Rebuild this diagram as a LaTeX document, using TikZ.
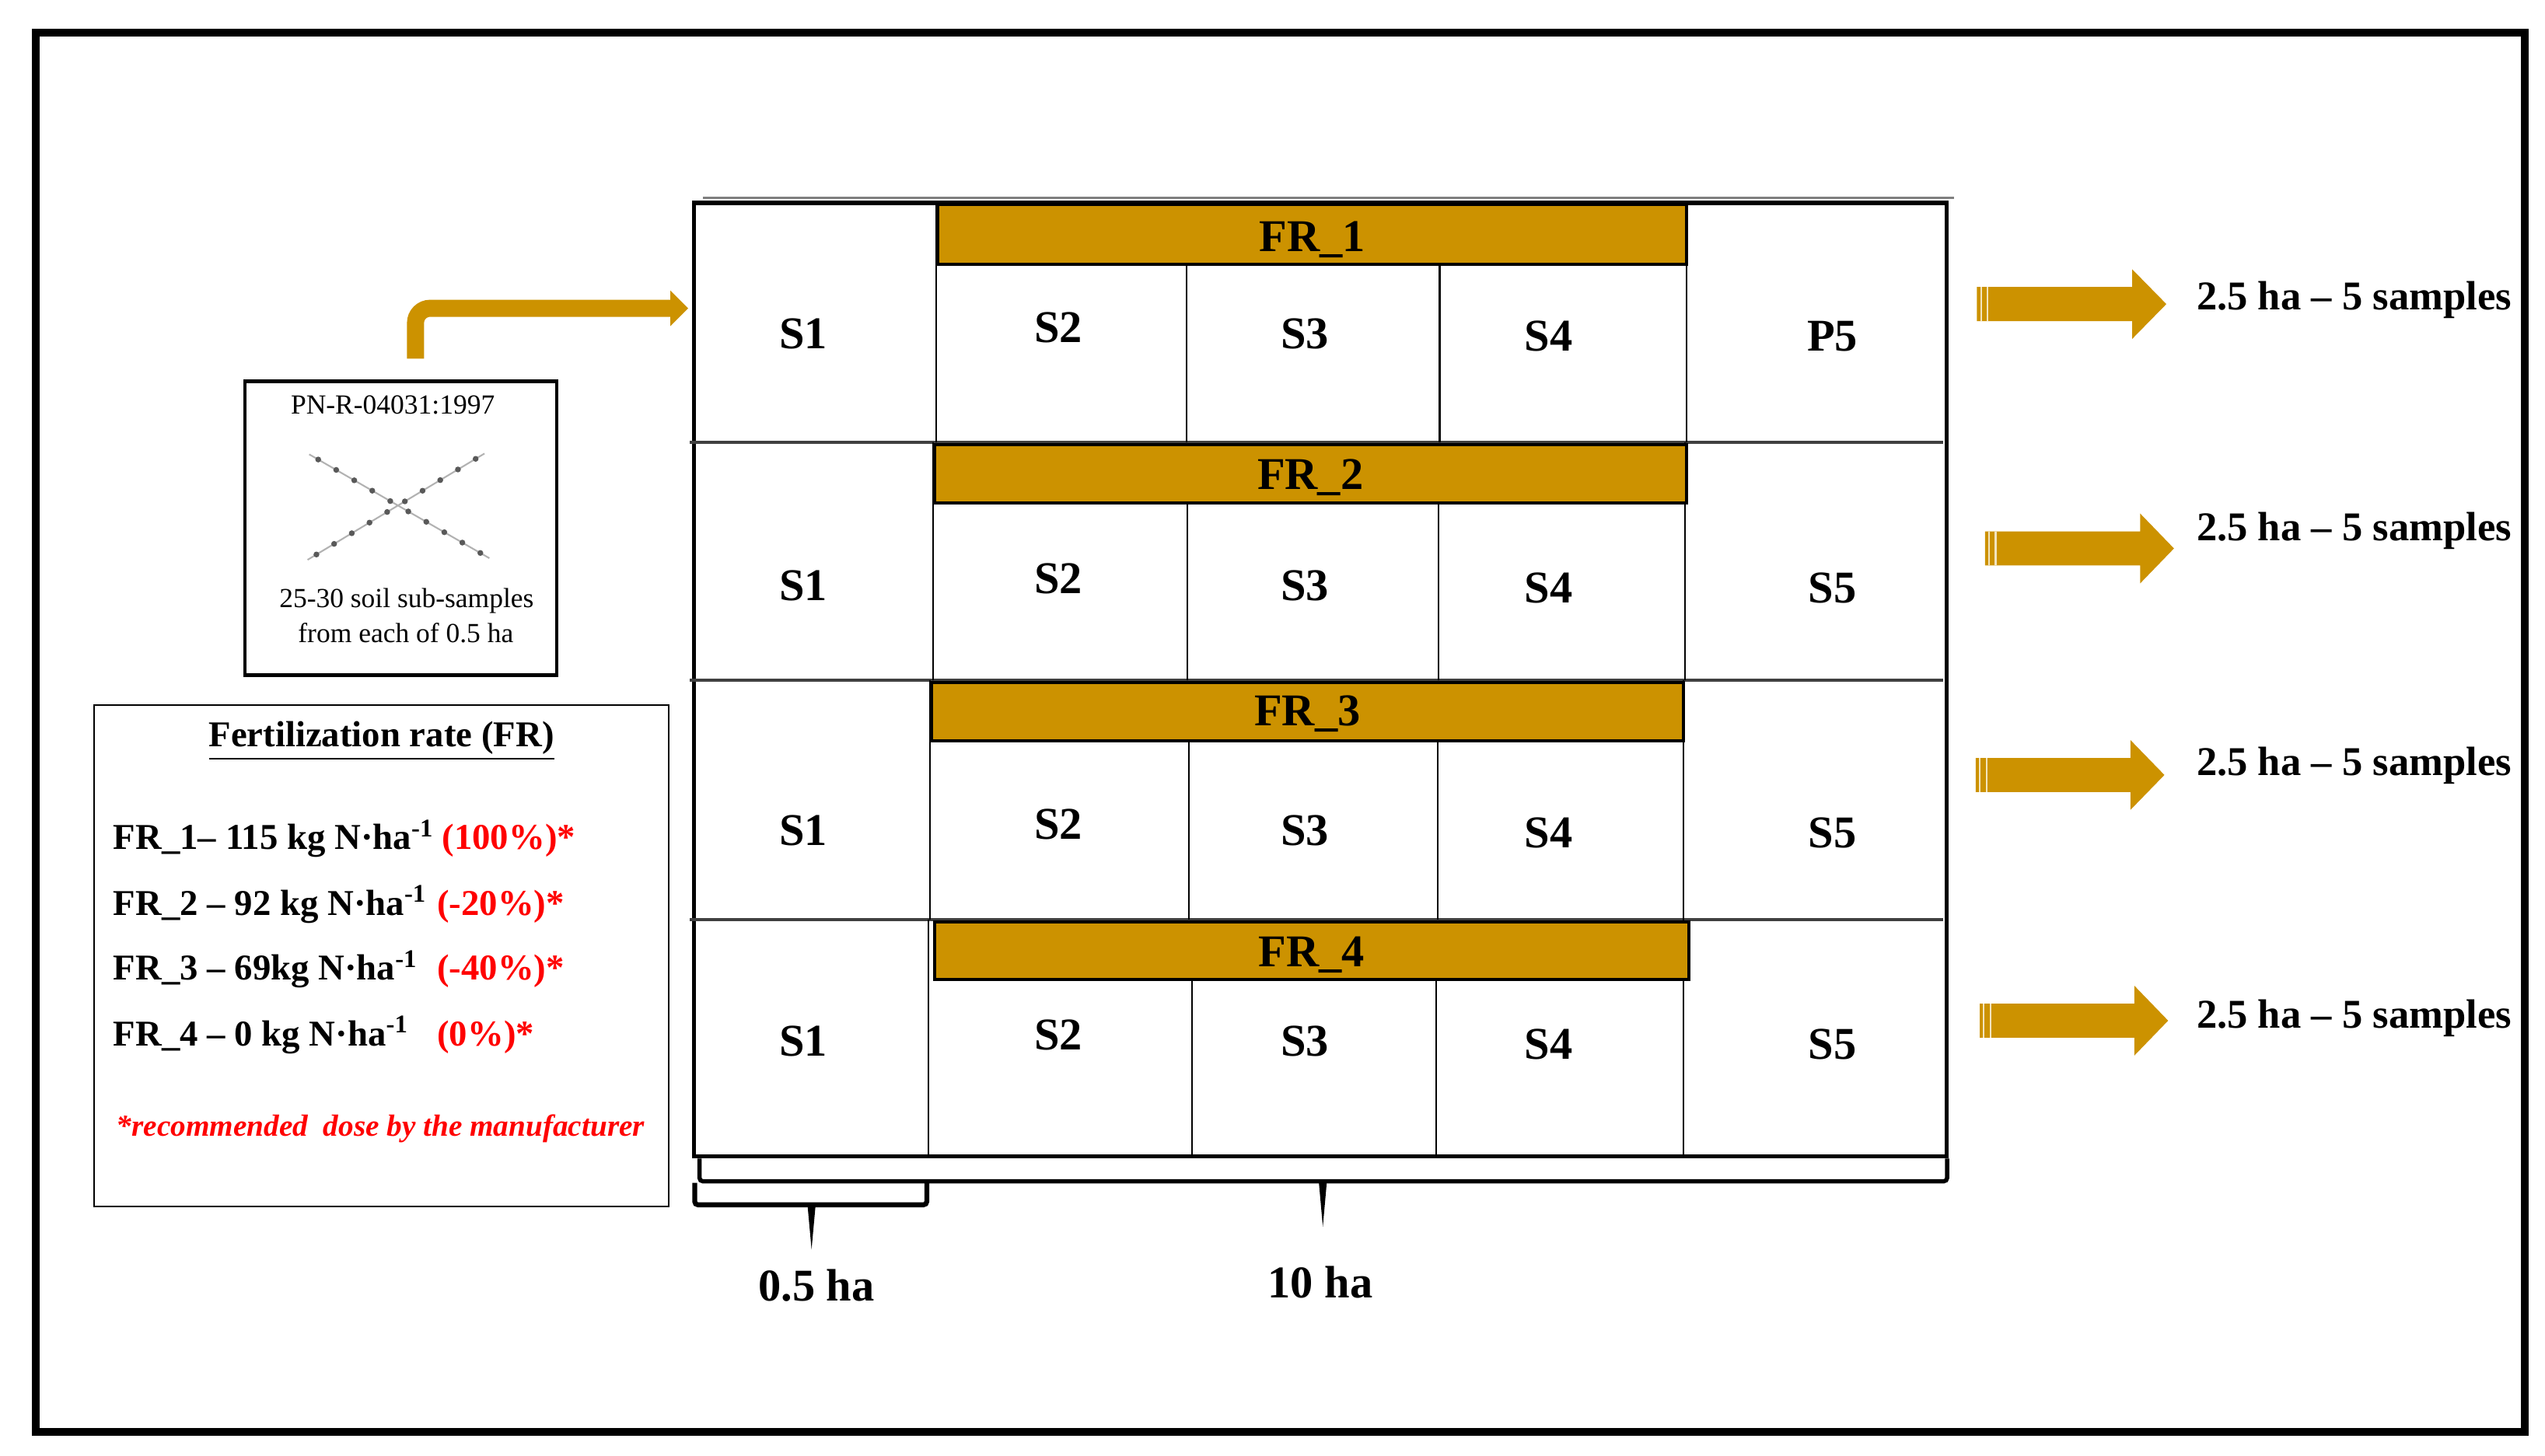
\documentclass[tikz,border=0pt]{standalone}
\usepackage{fontspec}
\setmainfont{Liberation Serif}
\definecolor{fieldgold}{RGB}{204,146,0}
\newcommand{\cellfont}{\fontsize{14}{16}\selectfont\bfseries}
\newcommand{\outfont}{\fontsize{12.6}{15}\selectfont\bfseries}
\newcommand{\legfont}{\fontsize{11.2}{13}\selectfont\bfseries}
\newcommand{\notefont}{\fontsize{9.4}{11}\selectfont\bfseries\itshape}
\newcommand{\boxfont}{\fontsize{8.5}{10}\selectfont}

\tikzset{
  cell/.style={font=\cellfont, anchor=base, inner sep=0pt},
  frbar/.style={draw=black, line width=0.9pt, fill=fieldgold},
  divider/.style={line width=0.5pt},
  rowline/.style={line width=0.9pt, black!75},
  legline/.style={font=\legfont, anchor=base west, inner sep=0pt},
  brace/.style={line width=1.3pt, rounded corners=1pt},
}

\begin{document}
\begin{tikzpicture}[x=0.5pt, y=-0.5pt]
  \useasboundingbox (0,0) rectangle (1568,897);
  \draw[line width=2.4pt] (22,20) rectangle (1555.3,882.6);

  % field plan
  \draw[gray, line width=0.6pt] (433,122) -- (1204,122);
  \draw[line width=1.2pt] (427.6,124.6) rectangle (1199.3,712.8);
  \draw[line width=1.6pt] (427.6,125) -- (1199.3,125);
  \foreach \y in {272.7,419.2,566.8}
    \draw[rowline] (425,\y) -- (1197,\y);
  \foreach \top/\bar/\bot/\xa/\xb/\xc/\xd in {124.6/163/272.7/577/731/887/1039,
      272.7/309.8/419.2/575/731.6/886.3/1038, 419.2/456.6/566.8/573/732.5/885.8/1037,
      566.8/603.6/712.8/572/734.6/884.8/1037}
    \draw[divider] (\xa,\top) -- (\xa,\bot) (\xb,\bar) -- (\xb,\bot)
      (\xc,\bar) -- (\xc,\bot) (\xd,\top) -- (\xd,\bot);
  \foreach \n/\xl/\yt/\xr/\yb/\ylab in {1/578/126/1039/163/155, 2/575.7/273.9/1039/309.8/301.8,
      3/574/420.7/1037/456.6/447, 4/575.7/568.2/1040.6/603.6/595.5} {
    \draw[frbar] (\xl,\yt) rectangle (\xr,\yb);
    \node[cell] (fr\n) at ({(\xl+\xr)/2},\ylab) {FR\_\n};
  }
  \foreach \row/\yb/\last in {1/215/P5, 2/370/S5, 3/521/S5, 4/651/S5} {
    \node[cell] (s\row-1) at (495,\yb) {S1};
    \node[cell] (s\row-2) at (652,\yb-4) {S2};
    \node[cell] (s\row-3) at (804,\yb) {S3};
    \node[cell] (s\row-4) at (954,\yb+1.5) {S4};
    \node[cell] (s\row-5) at (1129,\yb+1.5) {\last};
  }

  % outputs per row
  \foreach \n/\xs/\xh/\xt/\yc/\ytxt in {1/1218/1313.6/1334.7/187.4/190.7, 2/1223/1318.6/1339.4/338/333,
      3/1217.3/1312.6/1333.5/477.6/478, 4/1219.7/1315/1335.8/629/633.8} {
    \fill[fieldgold] (\xs,\yc-10.5) -- (\xh,\yc-10.5) -- (\xh,\yc-21.5) -- (\xt,\yc)
      -- (\xh,\yc+21.5) -- (\xh,\yc+10.5) -- (\xs,\yc+10.5) -- cycle;
    \draw[fieldgold!25, line width=0.5pt] (\xs+2.5,\yc-10.5) -- (\xs+2.5,\yc+10.5)
      (\xs+6.5,\yc-10.5) -- (\xs+6.5,\yc+10.5);
    \node[font=\outfont, anchor=base west, inner sep=0pt] (out\n) at (1353,\ytxt) {2.5 ha -- 5 samples};
  }

  % sampling
  \node[draw, line width=1.1pt, minimum width=96pt, minimum height=90.5pt] (sampbox) at (247,325.5) {};
  \node[font=\boxfont, anchor=base] (pn) at (242,255) {PN-R-04031:1997};
  \draw[black!30, line width=0.5pt] (190.5,280) -- (301.5,344) (189.5,345) -- (298.5,279.5);
  \foreach \t in {0.05,0.15,...,0.95} {
    \fill[black!65] ({190.5+111*\t},{280+64*\t}) circle (0.9pt);
    \fill[black!65] ({189.5+109*\t},{345-65.5*\t}) circle (0.9pt);
  }
  \node[font=\boxfont, anchor=base] (sub1) at (250.5,374.6) {25-30 soil sub-samples};
  \node[font=\boxfont, anchor=base] (sub2) at (250,396) {from each of 0.5 ha};
  \coordinate (rise) at (256,221);
  \coordinate (feed) at (415,190);
  \draw[fieldgold, line width=5.25pt, rounded corners=4.5pt] (rise) |- (feed);
  \fill[fieldgold] (413,179) -- (424,190) -- (413,201) -- cycle;

  % legend
  \draw[line width=0.6pt] (58,434.6) rectangle (412,743.5);
  \node[font=\legfont, anchor=base] (frtitle) at (235,460) {\underline{Fertilization rate (FR)}};
  \node[legline] (fr1txt) at (69.5,523.5) {FR\_1-- 115 kg N·ha\textsuperscript{-1}};
  \node[legline, text=red] (fr1pct) at (272,523.5) {(100\%)*};
  \node[legline] (fr2txt) at (69.5,564) {FR\_2 -- 92 kg N·ha\textsuperscript{-1}};
  \node[legline, text=red] (fr2pct) at (269,564) {(-20\%)*};
  \node[legline] (fr3txt) at (69.5,604) {FR\_3 -- 69kg N·ha\textsuperscript{-1}};
  \node[legline, text=red] (fr3pct) at (269,604) {(-40\%)*};
  \node[legline] (fr4txt) at (69.5,644.6) {FR\_4 -- 0 kg N·ha\textsuperscript{-1}};
  \node[legline, text=red] (fr4pct) at (269,644.6) {(0\%)*};
  \node[font=\notefont, text=red, anchor=base west, inner sep=0pt] (note) at (71.4,700)
    {*recommended\ \ dose by the manufacturer};

  % sizes
  \draw[brace] (431,714) -- (431,728) -- (1199.6,728) -- (1199.6,714);
  \fill (812.5,728) -- (817.5,728) -- (815,756) -- cycle;
  \draw[brace, line width=1.5pt] (428,729) -- (428,742.5) -- (571,742.5) -- (571,729);
  \fill (497.5,742.5) -- (502.5,742.5) -- (500,770) -- cycle;
  \node[cell] (halfha) at (503,801.6) {0.5 ha};
  \node[cell] (tenha) at (813.5,800) {10 ha};
\end{tikzpicture}
\end{document}
